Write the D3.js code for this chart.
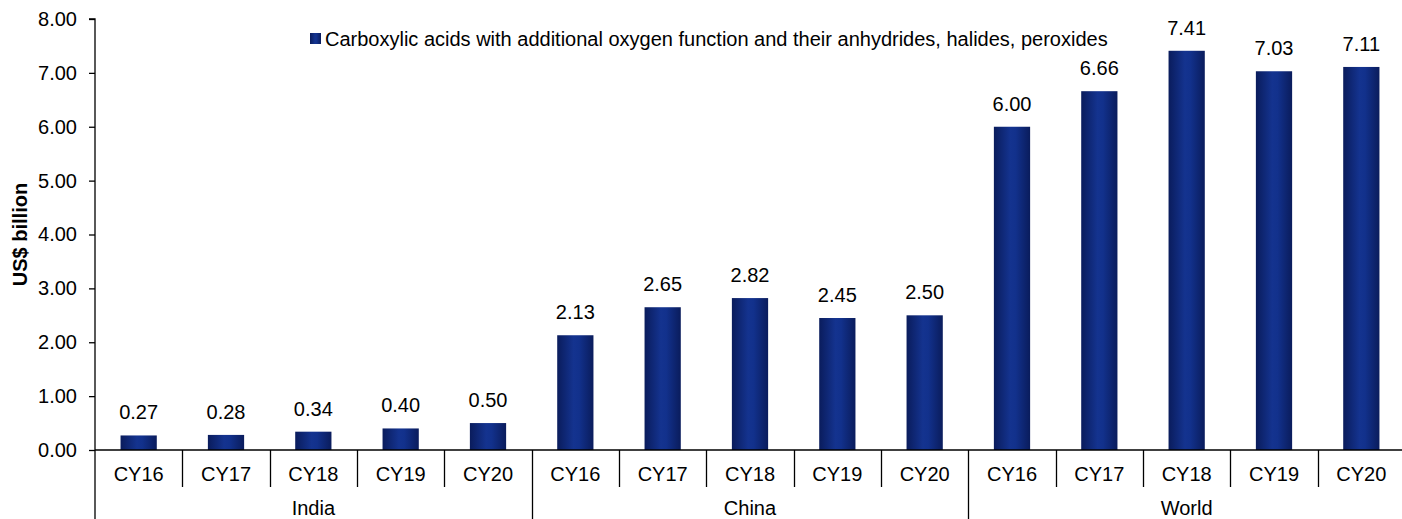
<!DOCTYPE html>
<html>
<head>
<meta charset="utf-8">
<script src="https://cdn.jsdelivr.net/npm/d3@7"></script>
<style>
  html, body { margin: 0; padding: 0; background: #fff; }
  svg { display: block; font-family: Arial, "Liberation Sans", sans-serif; }
</style>
</head>
<body>
<svg id="chart" width="1402" height="519"></svg>
<script>
// Export values by region and calendar year (US$ billion)
const regions = ["India", "China", "World"];
const years = ["CY16", "CY17", "CY18", "CY19", "CY20"];
const indiaValues = [0.27, 0.28, 0.34, 0.40, 0.50];
const chinaValues = [2.13, 2.65, 2.82, 2.45, 2.50];
const worldValues = [6.00, 6.66, 7.41, 7.03, 7.11];
const yTicks = [0, 1, 2, 3, 4, 5, 6, 7, 8];
const seriesName = "Carboxylic acids with additional oxygen function and their anhydrides, halides, peroxides";
const yTitle = "US$ billion";

const regionValues = [indiaValues, chinaValues, worldValues];
const rows = [];
regions.forEach((r, i) => years.forEach((y, j) => rows.push({ key: r + "|" + y, region: r, year: y, value: regionValues[i][j] })));

const FS = 20;
const svg = d3.select("#chart");
const margin = { left: 95, top: 19, right: -3, bottom: 69 };
const W = 1402, H = 519;
const plotBottom = H - margin.bottom;

const x = d3.scaleBand().domain(rows.map(d => d.key)).range([margin.left, W - margin.right]).paddingInner(0).paddingOuter(0);
const y = d3.scaleLinear().domain([0, 8]).range([plotBottom, margin.top]);

// horizontal gradient for the cylinder-like bar look
const defs = svg.append("defs");
const grad = defs.append("linearGradient").attr("id", "barGrad").attr("x1", "0%").attr("x2", "100%").attr("y1", "0%").attr("y2", "0%");
grad.append("stop").attr("offset", "0%").attr("stop-color", "#0a1c5c");
grad.append("stop").attr("offset", "45%").attr("stop-color", "#14338f");
grad.append("stop").attr("offset", "60%").attr("stop-color", "#12318c");
grad.append("stop").attr("offset", "100%").attr("stop-color", "#0a1c5c");

const barW = x.bandwidth() * 0.415;

// bars
svg.append("g").selectAll("rect").data(rows).join("rect")
  .attr("x", d => x(d.key) + (x.bandwidth() - barW) / 2)
  .attr("y", d => y(d.value))
  .attr("width", barW)
  .attr("height", d => y(0) - y(d.value))
  .attr("fill", "url(#barGrad)");

// value labels
svg.append("g").selectAll("text").data(rows).join("text")
  .attr("x", d => x(d.key) + x.bandwidth() / 2)
  .attr("y", d => y(d.value) - 16)
  .attr("text-anchor", "middle")
  .attr("font-size", FS)
  .attr("fill", "#000")
  .text(d => d.value.toFixed(2));

// y axis
const yAxis = d3.axisLeft(y).tickValues(yTicks).tickSize(6).tickPadding(12).tickFormat(d3.format(".2f"));
const yg = svg.append("g").attr("transform", `translate(${margin.left},0)`).call(yAxis);
yg.select(".domain").attr("stroke", "#000").attr("stroke-width", 1.3).attr("d", `M-6,${y(8)}H0V${H}`);
yg.selectAll(".tick line").attr("stroke", "#000").attr("stroke-width", 1.3);
yg.selectAll(".tick text").attr("font-size", FS).attr("fill", "#000").attr("font-family", "Arial, 'Liberation Sans', sans-serif");

// x baseline
svg.append("line").attr("x1", margin.left).attr("x2", W).attr("y1", y(0)).attr("y2", y(0)).attr("stroke", "#000").attr("stroke-width", 1.3);

// category separators (short) and region separators (long)
const sep = svg.append("g").attr("stroke", "#000").attr("stroke-width", 1.3);
rows.forEach((d, i) => {
  if (i === 0) return;
  const xx = Math.round(x(d.key)) + 0.5;
  const long = i % years.length === 0;
  sep.append("line").attr("x1", xx).attr("x2", xx).attr("y1", y(0)).attr("y2", long ? H : 487);
});

// year labels
svg.append("g").selectAll("text").data(rows).join("text")
  .attr("x", d => x(d.key) + x.bandwidth() / 2)
  .attr("y", 481)
  .attr("text-anchor", "middle")
  .attr("font-size", FS)
  .attr("fill", "#000")
  .text(d => d.year);

// region labels
svg.append("g").selectAll("text").data(regions).join("text")
  .attr("x", r => {
    const ks = rows.filter(d => d.region === r);
    return (x(ks[0].key) + x(ks[ks.length - 1].key) + x.bandwidth()) / 2;
  })
  .attr("y", 515)
  .attr("text-anchor", "middle")
  .attr("font-size", FS)
  .attr("fill", "#000")
  .text(r => r);

// y title
svg.append("text")
  .attr("transform", `translate(27,${(y(0) + y(8)) / 2}) rotate(-90)`)
  .attr("text-anchor", "middle")
  .attr("font-size", FS)
  .attr("font-weight", "bold")
  .attr("fill", "#000")
  .text(yTitle);

// legend
const lg = svg.append("g").attr("transform", "translate(310,33)");
lg.append("rect").attr("width", 11).attr("height", 11).attr("fill", "url(#barGrad)");
lg.append("text").attr("x", 15).attr("y", 13).attr("font-size", FS).attr("fill", "#000").text(seriesName);
</script>
</body>
</html>
